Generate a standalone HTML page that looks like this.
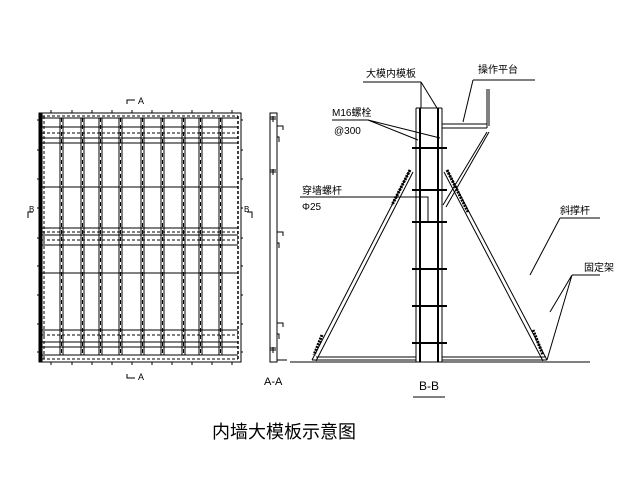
<!DOCTYPE html>
<html><head><meta charset="utf-8"><style>
html,body{margin:0;padding:0;background:#fff;width:624px;height:493px;overflow:hidden}
svg{display:block}
text{font-family:"Liberation Sans","Noto Sans CJK SC",sans-serif;fill:#000}
</style></head><body>
<svg width="624" height="493" viewBox="0 0 624 493" xmlns="http://www.w3.org/2000/svg" stroke="#000" fill="none" stroke-width="1">
<!-- left elevation -->
<rect x="39" y="113" width="202" height="249"/>
<rect x="39" y="113" width="3" height="249" fill="#000"/>
<line x1="238" y1="116" x2="238" y2="359" stroke-dasharray="3,2" stroke-width="1.5"/>
<line x1="44" y1="116" x2="44" y2="359" stroke-dasharray="3,2"/>
<line x1="42" y1="116" x2="238" y2="116" stroke-dasharray="3,2"/>
<line x1="42" y1="359" x2="238" y2="359" stroke-dasharray="3,2"/>
<g>
<line x1="42" y1="118" x2="238" y2="118"/><line x1="42" y1="127" x2="238" y2="127"/>
<line x1="42" y1="133" x2="238" y2="133" stroke-dasharray="3,2"/><line x1="42" y1="138" x2="238" y2="138"/>
<line x1="42" y1="143" x2="238" y2="143"/>
<line x1="42" y1="187" x2="238" y2="187"/>
<line x1="42" y1="228" x2="238" y2="228"/><line x1="42" y1="232" x2="238" y2="232" stroke-dasharray="3,2"/>
<line x1="42" y1="235" x2="238" y2="235"/><line x1="42" y1="240" x2="238" y2="240" stroke-dasharray="3,2"/>
<line x1="42" y1="245" x2="238" y2="245"/>
<line x1="42" y1="273" x2="238" y2="273"/>
<line x1="42" y1="330" x2="238" y2="330"/><line x1="42" y1="335" x2="238" y2="335" stroke-dasharray="3,2"/>
<line x1="42" y1="342" x2="238" y2="342"/><line x1="42" y1="347" x2="238" y2="347"/>
<line x1="42" y1="355" x2="238" y2="355"/>
</g>
<g id="ribs">
<path d="M60 118V355M63 118V355M81 118V355M84 118V355M99 118V355M102 118V355M119 118V355M122 118V355M141 118V355M144 118V355M161 118V355M164 118V355M182 118V355M185 118V355M199 118V355M202 118V355M219 118V355M222 118V355"/>
<path d="M61.5 118V355M82.5 118V355M100.5 118V355M120.5 118V355M142.5 118V355M162.5 118V355M183.5 118V355M200.5 118V355M220.5 118V355" stroke-dasharray="4,3"/>
</g>
<g stroke-width="1">
<path d="M37 120h2M37 150h2M37 179h2M37 208h2M37 238h2M37 266h2M37 295h2M37 324h2M37 352h2"/>
<path d="M241 120h2M241 150h2M241 179h2M241 208h2M241 238h2M241 266h2M241 295h2M241 324h2M241 352h2"/>
<path d="M51 113v-3M72 113v-3M92 113v-3M112 113v-3M132 113v-3M152 113v-3M172 113v-3M192 113v-3M212 113v-3M232 113v-3"/>
<path d="M51 362v3M72 362v3M92 362v3M112 362v3M132 362v3M152 362v3M172 362v3M192 362v3M212 362v3M232 362v3"/>
</g>
<path d="M127 104v-4h8M127 374v4h8M28 218v-6h5M252 218v-6h-5"/>
<text x="138" y="104" font-size="9" stroke="none">A</text>
<text x="138" y="380" font-size="9" stroke="none">A</text>
<text x="29" y="212" font-size="8" stroke="none">B</text>
<text x="244" y="212" font-size="8" stroke="none">B</text>
<!-- side A-A -->
<rect x="270" y="113" width="7" height="249"/>
<path d="M270 117h6M270 119h6M273 116v6M270 170h6M270 172h6M273 169v6M270 348h6M270 350h6M273 347v6"/>
<path d="M277 126h6v4M277 137h2v5M277 232h6v4M277 243h2v5M277 323h6v4M277 334h2v5M277 360h10"/>
<text x="264" y="385" font-size="11" stroke="none">A-A</text>
<!-- B-B -->
<line x1="290" y1="362" x2="590" y2="362"/>
<path d="M416 108V362M438 108V362M442 108V362M416 108h26" />
<path d="M420 108V362" stroke-width="2"/><path d="M438 108V362" stroke-width="2"/>
<g stroke-width="2">
<path d="M412 148h35M412 190h35M412 222h35M412 269h35M412 306h35M412 343h35"/>
</g>
<path d="M410 170L312 360M413 172L316 361M312 360h104M316 357h100"/>
<path d="M447 170L547 360M444 172L543 361M442 360h105M442 357h104"/>
<path d="M410 170L392 205M447 170L468 212M322 335l-8 20M533 330l10 25" stroke-width="3" stroke-dasharray="2,1"/>
<path d="M442 124h45M442 128h45M487 89V128M489 89V126M487 132L443 205M489 132L446 207"/>
<!-- leaders -->
<path d="M363 82h58M421 82v26M421 82l16 26"/>
<text x="366" y="77" font-size="10" stroke="none">大模内模板</text>
<path d="M473 80h62M473 80l-10 42"/>
<text x="478" y="73" font-size="10" stroke="none">操作平台</text>
<path d="M332 120h36l50 20M368 120l72 18"/>
<text x="332" y="116" font-size="10" stroke="none">M16螺栓</text>
<text x="334" y="134" font-size="10" stroke="none">@300</text>
<path d="M300 197h128v25"/>
<text x="302" y="194" font-size="10" stroke="none">穿墙螺杆</text>
<text x="302" y="210" font-size="10" stroke="none">Φ25</text>
<path d="M560 218h40M560 218l-30 57"/>
<text x="560" y="214" font-size="10" stroke="none">斜撑杆</text>
<path d="M572 275h28M572 275l-22 37M572 275l-25 85"/>
<text x="584" y="271" font-size="10" stroke="none">固定架</text>
<text x="419" y="390" font-size="12" stroke="none">B-B</text>
<line x1="413" y1="397" x2="445" y2="397"/>
<text x="212" y="438" font-size="18" stroke="none">内墙大模板示意图</text>
</svg>
</body></html>
